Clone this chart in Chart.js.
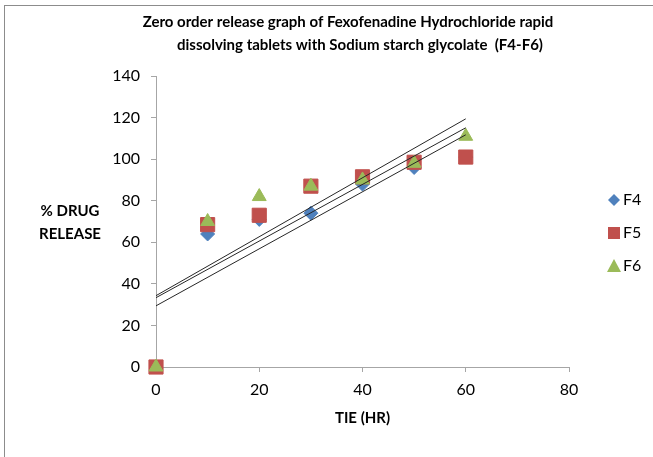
<!DOCTYPE html>
<html>
<head>
<meta charset="utf-8">
<script src="https://cdn.jsdelivr.net/npm/chart.js@4"></script>
<style>
html, body { margin: 0; padding: 0; background: #fff; }
#wrap { position: relative; width: 653px; height: 457px; }
#frame { position: absolute; left: 4px; top: 5px; right: 0; bottom: 0; border-left: 1px solid #8c8c8c; border-top: 1px solid #8c8c8c; }
canvas { position: absolute; left: 0; top: 0; }
</style>
</head>
<body>
<div id="wrap"><div id="frame"></div><canvas id="chart" width="653" height="457"></canvas></div>
<script>
// data
const timePoints = [0, 10, 20, 30, 40, 50, 60];
const f4 = [0, 64, 71, 74, 88, 96, 101];
const f5 = [0, 68.5, 73, 87, 91.5, 98.5, 101];
const f6 = [0, 70, 82, 87, 90, 98, 111];
const seriesNames = ['F4', 'F5', 'F6'];
const titleLines = ['Zero order release graph of Fexofenadine Hydrochloride rapid',
                    'dissolving tablets with Sodium starch glycolate  (F4-F6)'];
const yTitleLines = ['% DRUG', 'RELEASE'];
const xTitle = 'TIE (HR)';

const colors = ['#4F81BD', '#C0504D', '#9BBB59'];
const shapes = ['rectRot', 'rect', 'triangle'];
const radii = [7, 10, 8];
const fontFamily = 'Lato, "Liberation Sans", sans-serif';

function points(ys) {
    return timePoints.map((x, i) => ({ x: x, y: ys[i] }));
}

// least squares line, like the Excel linear trendline
function trend(ys) {
    const n = timePoints.length;
    const mx = timePoints.reduce((a, b) => a + b, 0) / n;
    const my = ys.reduce((a, b) => a + b, 0) / n;
    let sxy = 0, sxx = 0;
    timePoints.forEach((x, i) => {
        sxy += (x - mx) * (ys[i] - my);
        sxx += (x - mx) * (x - mx);
    });
    const slope = sxy / sxx;
    const icpt = my - slope * mx;
    const x0 = timePoints[0], x1 = timePoints[n - 1];
    return [{ x: x0, y: icpt + slope * x0 }, { x: x1, y: icpt + slope * x1 }];
}

const allSeries = [f4, f5, f6];
const datasets = [];
allSeries.forEach((ys, i) => {
    datasets.push({
        label: seriesNames[i],
        data: points(ys),
        showLine: false,
        pointStyle: shapes[i],
        pointRadius: radii[i],
        pointHoverRadius: radii[i],
        backgroundColor: colors[i],
        borderColor: colors[i],
        borderWidth: 1,
        order: 3 - i,
        clip: false
    });
});
allSeries.forEach((ys, i) => {
    datasets.push({
        label: 'trend ' + seriesNames[i],
        data: trend(ys),
        showLine: true,
        pointRadius: 0,
        borderColor: '#262626',
        borderWidth: 1,
        order: 0
    });
});

// title, horizontal y title, x title and legend
const decorations = {
    id: 'decorations',
    afterDraw(chart) {
        const ctx = chart.ctx;
        const area = chart.chartArea;
        ctx.save();
        ctx.fillStyle = '#000';
        ctx.textAlign = 'center';
        ctx.textBaseline = 'middle';
        ctx.font = 'bold 15px ' + fontFamily;
        ctx.fillText(titleLines[0], 348, 22);
        ctx.fillText(titleLines[1], 360, 45);

        ctx.font = 'bold 15px ' + fontFamily;
        ctx.fillText(yTitleLines[0], 70, 211);
        ctx.fillText(yTitleLines[1], 70, 234);
        ctx.fillText(xTitle, (area.left + area.right) / 2, 418);

        ctx.textAlign = 'left';
        ctx.font = '16px ' + fontFamily;
        seriesNames.forEach((name, i) => {
            const y = 200 + i * 33;
            const x = 614;
            ctx.fillStyle = colors[i];
            ctx.beginPath();
            if (i === 0) {
                ctx.moveTo(x, y - 6); ctx.lineTo(x + 6, y); ctx.lineTo(x, y + 6); ctx.lineTo(x - 6, y);
            } else if (i === 1) {
                ctx.rect(x - 6, y - 6, 12, 12);
            } else {
                ctx.moveTo(x, y - 7); ctx.lineTo(x + 7, y + 6); ctx.lineTo(x - 7, y + 6);
            }
            ctx.closePath();
            ctx.fill();
            ctx.fillStyle = '#000';
            ctx.fillText(name, 623, y);
        });
        ctx.restore();
    }
};

new Chart(document.getElementById('chart').getContext('2d'), {
    type: 'scatter',
    data: { datasets: datasets },
    options: {
        responsive: false,
        animation: false,
        devicePixelRatio: 1,
        layout: { padding: { top: 76, right: 84, left: 0, bottom: 0 } },
        plugins: {
            legend: { display: false },
            tooltip: { enabled: false }
        },
        scales: {
            x: {
                type: 'linear',
                min: 0,
                max: 80,
                ticks: { stepSize: 20, color: '#000', font: { family: fontFamily, size: 16 }, padding: 8 },
                grid: { drawOnChartArea: false, color: '#a6a6a6', tickLength: 5 },
                border: { color: '#a6a6a6' },
                afterFit(scale) { scale.height = 90; }
            },
            y: {
                min: 0,
                max: 140,
                ticks: { stepSize: 20, color: '#000', font: { family: fontFamily, size: 16 }, padding: 11 },
                grid: { drawOnChartArea: false, color: '#a6a6a6', tickLength: 5 },
                border: { color: '#a6a6a6' },
                afterFit(scale) { scale.width = 156; }
            }
        }
    },
    plugins: [decorations]
});
</script>
</body>
</html>
